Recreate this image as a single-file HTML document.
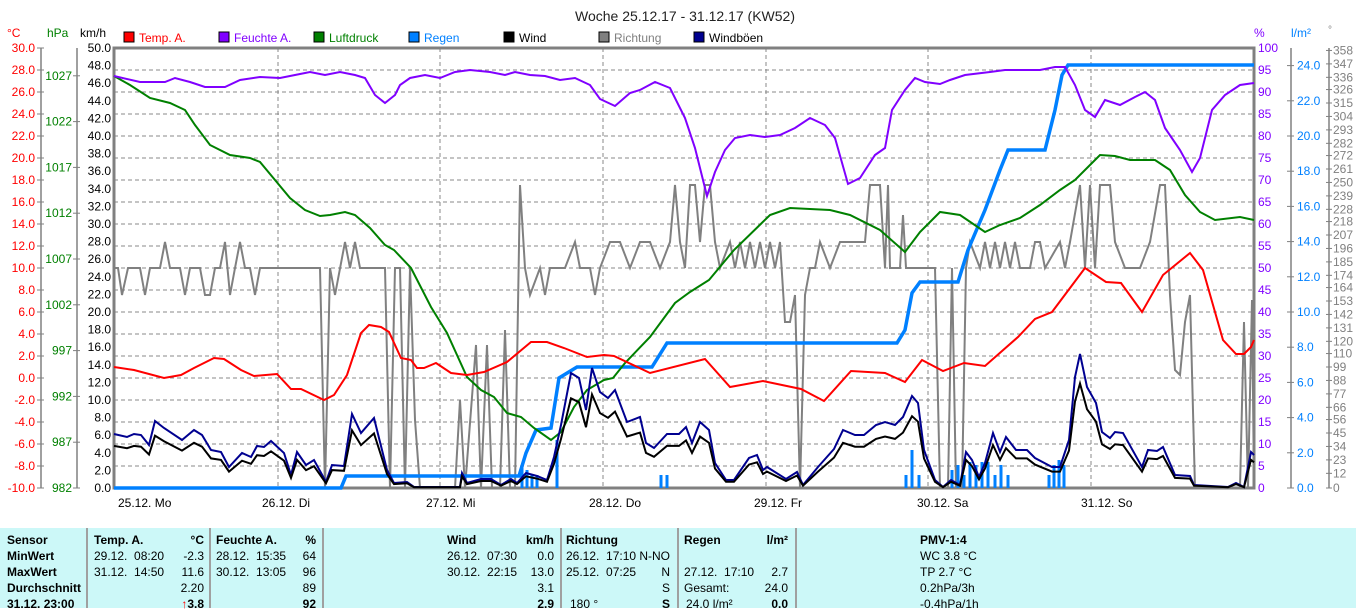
<!DOCTYPE html>
<html><head><meta charset="utf-8"><style>
body{margin:0;width:1356px;height:608px;background:#fff;overflow:hidden;font-family:"Liberation Sans",sans-serif}
svg{position:absolute;left:0;top:0}
.t{position:absolute;top:528px;left:0;width:1356px;height:80px;background:#ccf8f8}
.t div{position:absolute;font-size:12px;line-height:16px;white-space:nowrap;font-family:"Liberation Sans Narrow","Liberation Sans",sans-serif}
.b{font-weight:bold}
.sep{position:absolute;top:0;width:2px;height:80px;background:#a0a0a0}
</style></head><body>
<svg width="1356" height="528" font-family="Liberation Sans, sans-serif">
<text x="685" y="21" font-size="14" text-anchor="middle" fill="#222">Woche 25.12.17 - 31.12.17 (KW52)</text>
<g font-size="12">
<text x="7" y="37" fill="red">°C</text><text x="47" y="37" fill="green">hPa</text><text x="80" y="37" fill="#000">km/h</text>
<rect x="124" y="32" width="10" height="10" fill="red" stroke="#000"/><text x="139" y="42" fill="red">Temp. A.</text>
<rect x="219" y="32" width="10" height="10" fill="#8000ff" stroke="#000"/><text x="234" y="42" fill="#8000ff">Feuchte A.</text>
<rect x="314" y="32" width="10" height="10" fill="green" stroke="#000"/><text x="329" y="42" fill="green">Luftdruck</text>
<rect x="409" y="32" width="10" height="10" fill="#0080ff" stroke="#000"/><text x="424" y="42" fill="#0080ff">Regen</text>
<rect x="504" y="32" width="10" height="10" fill="#000" stroke="#000"/><text x="519" y="42" fill="#000">Wind</text>
<rect x="599" y="32" width="10" height="10" fill="#808080" stroke="#000"/><text x="614" y="42" fill="#808080">Richtung</text>
<rect x="694" y="32" width="10" height="10" fill="#000090" stroke="#000"/><text x="709" y="42" fill="#000">Windböen</text>
<text x="1254" y="37" fill="#8000ff">%</text><text x="1291" y="37" fill="#0080ff">l/m²</text><text x="1328" y="33" fill="#808080" font-size="10">°</text>
</g>
<g stroke="#888" stroke-dasharray="4,3" stroke-width="1">
<path d="M114 70H1254M114 92H1254M114 114H1254M114 136H1254M114 158H1254M114 180H1254M114 202H1254M114 224H1254M114 246H1254M114 268H1254M114 290H1254M114 312H1254M114 334H1254M114 356H1254M114 378H1254M114 400H1254M114 422H1254M114 444H1254M114 466H1254"/>
<path d="M278 48V488M440 48V488M603 48V488M766 48V488M928 48V488M1091 48V488"/>
</g>
<rect x="114" y="48" width="1140" height="440" fill="none" stroke="#808080" stroke-width="3"/>
<g stroke="#808080" stroke-width="1.5"><path d="M41 48V488M77 48V488M1291 48V488M1329 48V488"/></g>
<g font-size="12" id="ax"></g>
<!-- direction -->
<polyline fill="none" stroke="#808080" stroke-width="2" points="114,268 118,268 122,295 128,268 140,268 145,295 150,268 160,268 165,242 170,268 180,268 185,295 190,268 200,268 205,295 210,295 215,268 220,268 225,242 230,295 235,268 240,242 245,268 250,268 255,295 260,268 268,268 278,268 300,268 320,268 325,488 330,268 335,295 345,242 350,268 355,242 360,268 385,268 390,488 395,268 400,268 405,488 410,268 415,420 420,488 440,488 455,488 460,400 465,488 476,345 481,488 487,345 492,488 500,488 505,330 510,488 515,488 520,185 525,268 530,295 540,268 545,295 550,268 565,268 575,242 580,268 590,268 595,295 600,268 610,242 620,242 630,268 640,242 650,242 660,268 670,242 675,185 680,242 685,268 690,185 695,185 700,242 705,185 710,185 715,242 720,268 730,242 735,268 740,242 745,268 750,242 755,268 760,242 765,268 770,242 775,268 780,242 785,322 790,322 795,295 800,488 805,295 810,268 815,268 820,242 830,268 840,242 865,242 870,185 880,185 885,268 888,185 890,268 900,268 903,215 906,268 935,268 940,488 948,488 952,268 956,488 962,488 966,268 970,242 980,268 985,242 990,268 995,242 1000,268 1005,242 1010,268 1015,242 1020,268 1030,268 1035,242 1040,242 1045,268 1060,242 1065,268 1070,242 1080,185 1085,268 1090,185 1095,268 1100,185 1110,185 1115,242 1125,268 1140,268 1150,242 1160,185 1165,185 1170,295 1175,370 1180,375 1185,322 1190,295 1195,488 1240,488 1244,322 1248,488 1252,300 1254,488"/>
<!-- rain bars -->
<g stroke="#0080ff" stroke-width="3"><path d="M522 488V465M527 488V470M532 488V475M537 488V475M557 488V440M661 488V475M667 488V475M906 488V475M912 488V450M919 488V475M952 488V470M958 488V465M964 488V475M970 488V462M976 488V465M982 488V462M988 488V462M995 488V475M1001 488V465M1008 488V475M1049 488V475M1054 488V465M1059 488V460M1064 488V465"/></g>
<!-- rain cumulative -->
<polyline fill="none" stroke="#0080ff" stroke-width="3.5" points="114,488 341,488 346,476 519,476 526,453 536,430 551,428 559,378 577,367 652,367 667,343 897,343 905,330 912,293 920,282 958,282 968,250 985,210 1000,170 1008,150 1045,150 1055,110 1062,75 1068,65 1254,65"/>
<!-- pressure -->
<polyline fill="none" stroke="green" stroke-width="2" points="114,76 130,85 150,98 170,103 185,110 195,125 210,145 230,155 250,158 260,162 275,180 290,198 305,210 320,216 330,215 345,212 355,215 370,228 385,245 394,250 411,268 431,307 447,333 467,377 481,390 494,397 507,413 521,417 534,428 551,440 561,432 574,407 587,390 604,380 613,378 625,363 650,337 675,303 690,292 709,280 734,250 770,215 790,208 830,210 850,215 880,230 905,252 920,232 940,212 960,215 985,232 1000,225 1020,218 1040,205 1060,190 1075,180 1090,165 1100,155 1115,156 1130,160 1155,160 1170,170 1185,195 1200,212 1215,220 1240,217 1254,220"/>
<!-- humidity -->
<polyline fill="none" stroke="#8000ff" stroke-width="2" points="114,76 140,82 165,82 175,78 190,82 205,87 225,87 240,80 260,77 280,78 295,75 310,72 325,75 340,72 355,75 365,78 375,95 385,103 395,95 400,85 410,78 425,75 440,78 455,72 470,70 490,72 505,75 515,72 530,75 545,76 560,80 575,78 590,85 600,99 615,106 630,93 640,90 655,82 670,88 685,118 695,148 707,196 715,172 725,150 735,138 750,135 765,137 780,135 795,128 810,118 825,125 835,138 848,184 860,178 875,155 885,148 892,110 905,90 915,78 925,82 940,84 950,80 965,75 990,72 1005,70 1040,70 1055,67 1065,67 1075,85 1085,110 1095,117 1105,100 1120,105 1135,97 1145,92 1155,100 1165,128 1180,150 1192,172 1200,158 1212,110 1225,95 1240,85 1254,83"/>
<!-- temperature -->
<polyline fill="none" stroke="red" stroke-width="2" points="114,367 134,370 164,378 181,375 194,368 214,358 224,359 241,370 254,376 277,374 291,389 301,389 324,400 334,395 347,375 361,333 369,325 381,327 389,332 401,358 411,360 417,368 424,368 436,363 451,373 467,375 484,372 507,362 531,342 547,342 564,348 587,357 604,355 614,356 650,373 705,359 730,387 763,381 801,389 824,401 851,371 885,373 905,382 922,360 943,371 964,363 985,366 1018,337 1035,319 1052,312 1085,268 1106,282 1121,283 1142,312 1163,275 1190,253 1203,270 1223,340 1236,354 1244,354 1251,347 1254,340"/>
<!-- gusts -->
<polyline id="g" fill="none" stroke="#000090" stroke-width="2" points="114,434 127,437 134,434 141,435 149,445 155,421 164,428 182,440 194,430 202,435 211,450 221,452 229,467 242,453 251,457 257,446 264,447 271,441 284,453 291,475 297,452 306,465 314,460 326,482 332,465 344,466 352,414 361,433 374,418 387,470 394,483 407,482 414,487 460,487 462,473 467,483 481,479 491,479 501,485 511,479 517,483 526,473 537,476 547,480 554,457 561,425 571,373 579,378 586,410 592,368 600,392 608,398 615,390 627,422 640,417 646,443 654,448 667,434 679,434 686,427 692,443 700,422 709,430 715,463 726,480 734,480 749,458 757,455 763,470 767,467 786,479 797,472 803,485 818,467 834,449 843,430 855,435 864,435 876,425 885,422 895,425 903,417 912,396 918,403 924,450 935,480 943,487 951,480 960,485 966,452 972,460 979,477 985,463 993,433 1000,452 1006,437 1016,450 1027,450 1035,458 1052,467 1060,467 1069,440 1075,377 1080,354 1087,387 1096,403 1102,432 1110,438 1115,432 1123,433 1142,467 1148,450 1157,451 1163,447 1175,475 1190,476 1194,485 1228,487 1236,483 1244,487 1251,452 1254,455"/>
<polyline id="w" fill="none" stroke="#000" stroke-width="2" points=""/>
<g font-size="12" fill="#000">
<text x="118" y="507">25.12. Mo</text><text x="262" y="507">26.12. Di</text><text x="426" y="507">27.12. Mi</text><text x="589" y="507">28.12. Do</text><text x="754" y="507">29.12. Fr</text><text x="917" y="507">30.12. Sa</text><text x="1081" y="507">31.12. So</text>
</g>
</svg>
<div class="t">
<div class="sep" style="left:86px"></div><div class="sep" style="left:209px"></div><div class="sep" style="left:322px"></div><div class="sep" style="left:560px"></div><div class="sep" style="left:677px"></div><div class="sep" style="left:795px"></div>
<div class="b" style="left:7px;top:4px">Sensor</div><div class="b" style="left:7px;top:20px">MinWert</div><div class="b" style="left:7px;top:36px">MaxWert</div><div class="b" style="left:7px;top:52px">Durchschnitt</div><div class="b" style="left:7px;top:68px">31.12. 23:00</div>
<div class="b" style="left:94px;top:4px">Temp. A.</div><div class="b" style="right:1152px;top:4px">°C</div>
<div style="left:94px;top:20px">29.12.&nbsp; 08:20</div><div style="right:1152px;top:20px">-2.3</div>
<div style="left:94px;top:36px">31.12.&nbsp; 14:50</div><div style="right:1152px;top:36px">11.6</div>
<div style="right:1152px;top:52px">2.20</div><div class="b" style="right:1152px;top:68px"><span style="color:red">↑</span>3.8</div>
<div class="b" style="left:216px;top:4px">Feuchte A.</div><div class="b" style="right:1040px;top:4px">%</div>
<div style="left:216px;top:20px">28.12.&nbsp; 15:35</div><div style="right:1040px;top:20px">64</div>
<div style="left:216px;top:36px">30.12.&nbsp; 13:05</div><div style="right:1040px;top:36px">96</div>
<div style="right:1040px;top:52px">89</div><div class="b" style="right:1040px;top:68px">92</div>
<div class="b" style="left:447px;top:4px">Wind</div><div class="b" style="right:802px;top:4px">km/h</div>
<div style="left:447px;top:20px">26.12.&nbsp; 07:30</div><div style="right:802px;top:20px">0.0</div>
<div style="left:447px;top:36px">30.12.&nbsp; 22:15</div><div style="right:802px;top:36px">13.0</div>
<div style="right:802px;top:52px">3.1</div><div class="b" style="right:802px;top:68px">2.9</div>
<div class="b" style="left:566px;top:4px">Richtung</div>
<div style="left:566px;top:20px">26.12.&nbsp; 17:10</div><div style="right:686px;top:20px">N-NO</div>
<div style="left:566px;top:36px">25.12.&nbsp; 07:25</div><div style="right:686px;top:36px">N</div>
<div style="right:686px;top:52px">S</div><div style="left:570px;top:68px">180 °</div><div class="b" style="right:686px;top:68px">S</div>
<div class="b" style="left:684px;top:4px">Regen</div><div class="b" style="right:568px;top:4px">l/m²</div>
<div style="left:684px;top:36px">27.12.&nbsp; 17:10</div><div style="right:568px;top:36px">2.7</div>
<div style="left:684px;top:52px">Gesamt:</div><div style="right:568px;top:52px">24.0</div>
<div style="left:686px;top:68px">24.0 l/m²</div><div class="b" style="right:568px;top:68px">0.0</div>
<div class="b" style="left:920px;top:4px">PMV-1:4</div><div style="left:920px;top:20px">WC 3.8 °C</div><div style="left:920px;top:36px">TP 2.7 °C</div><div style="left:920px;top:52px">0.2hPa/3h</div><div style="left:920px;top:68px">-0.4hPa/1h</div>
</div>
<script>
var ns="http://www.w3.org/2000/svg",ax=document.getElementById("ax");
function T(x,y,s,c,a){var t=document.createElementNS(ns,"text");t.setAttribute("x",x);t.setAttribute("y",y+4);t.setAttribute("fill",c);t.setAttribute("text-anchor",a||"end");t.textContent=s;ax.appendChild(t);}
function L(x1,y,x2,c){var l=document.createElementNS(ns,"line");l.setAttribute("x1",x1);l.setAttribute("x2",x2);l.setAttribute("y1",y);l.setAttribute("y2",y);l.setAttribute("stroke",c);ax.appendChild(l);}
for(var v=30;v>=-10;v-=2){var y=48+(30-v)*11;T(35,y,v.toFixed(1),"red");L(37,y,44,"#808080");}
for(var p=1027;p>=982;p-=5){var y=488-(p-982)*9.16;T(72,y,p,"green");L(73,y,80,"#808080");}
for(var k=50;k>=0;k-=2){var y=488-k*8.8;T(111,y,k.toFixed(1),"#000");}
for(var h=100;h>=0;h-=5){var y=488-h*4.4;T(1258,y,h,"#8000ff","start");}
for(var r=24;r>=0;r-=2){var y=488-r*17.6;T(1297,y,r.toFixed(1),"#0080ff","start");L(1287,y,1294,"#808080");}
[358,347,336,326,315,304,293,282,272,261,250,239,228,218,207,196,185,174,164,153,142,131,120,110,99,88,77,66,56,45,34,23,12,0].forEach(function(d){var y=488-d*440/360;T(1333,y,d,"#808080","start");L(1326,y,1332,"#808080");});
var g=document.getElementById("g").getAttribute("points").split(" ").map(function(s){var a=s.split(",");return a[0]+","+(488-(488-a[1])*0.78).toFixed(1);});
document.getElementById("w").setAttribute("points",g.join(" "));
</script>
</body></html>
